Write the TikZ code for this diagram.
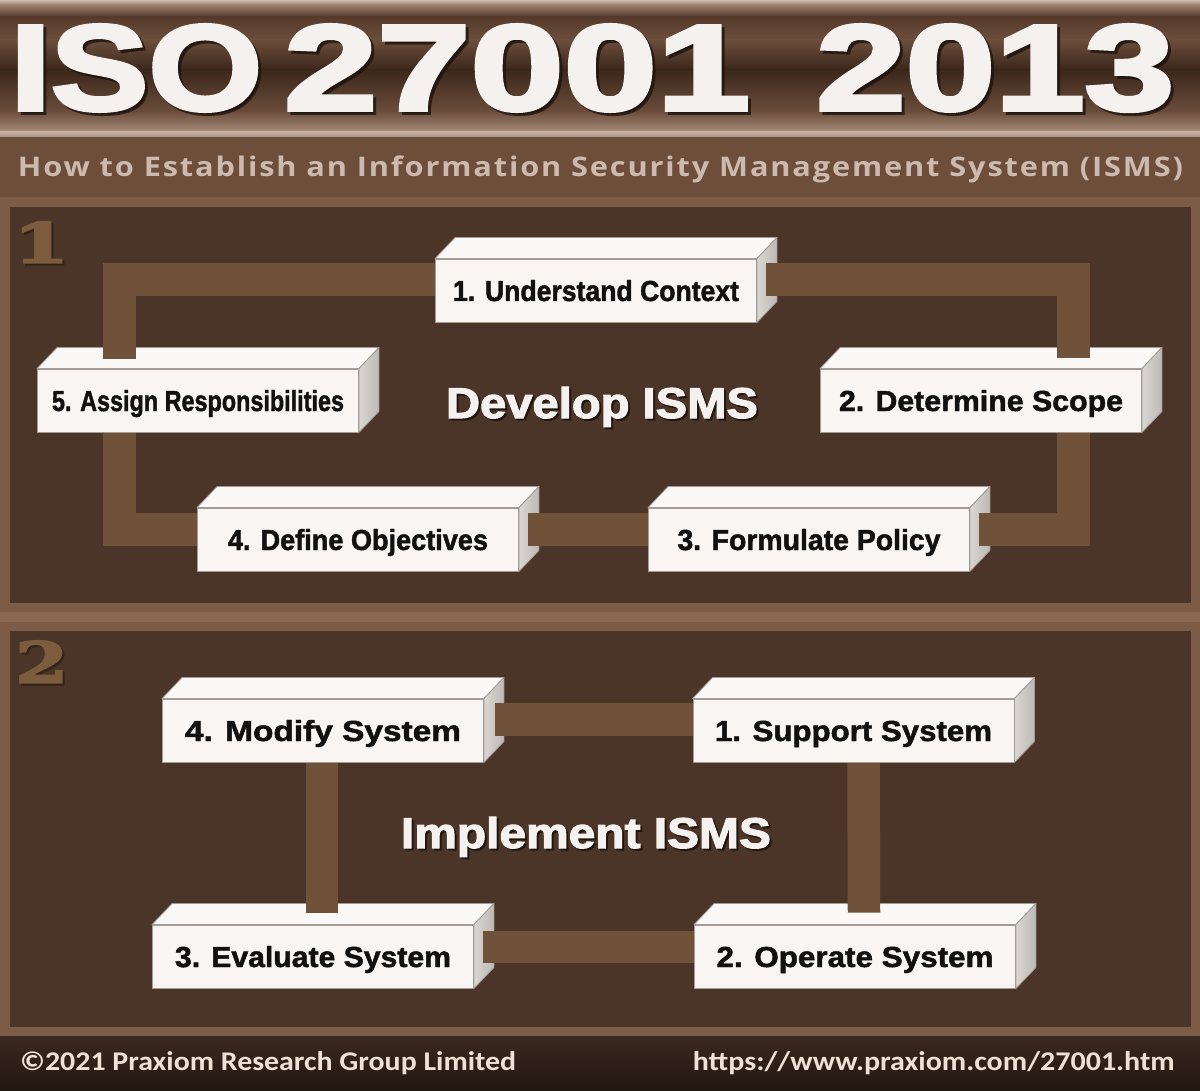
\documentclass[tikz,border=0pt]{standalone}
\usepackage{fontspec}
\setmainfont{Liberation Sans}
\newfontfamily\titlefont[FakeBold=3]{Liberation Sans Bold}
\newfontfamily\heavy[FakeBold=2.5]{Liberation Sans Bold}
\newfontfamily\boxfont[FakeBold=1.6]{Liberation Sans Bold}
\newfontfamily\subfont[LetterSpace=6]{Open Sans}
\newfontfamily\footfont{Carlito}
\newfontfamily\numfont[FakeBold=3]{DejaVu Serif Bold}
\usetikzlibrary{calc}
\pgfdeclarelayer{bg}
\pgfdeclarelayer{sides}
\pgfdeclarelayer{bars}
\pgfsetlayers{bg,sides,bars,main}

\definecolor{tA}{HTML}{CDB9AB}
\definecolor{tB}{HTML}{9E8372}
\definecolor{tC}{HTML}{553A2B}
\definecolor{tD}{HTML}{6C4E3C}
\definecolor{tE}{HTML}{3B271B}
\definecolor{tF}{HTML}{6A4D3B}
\definecolor{tG}{HTML}{A88D7B}
\definecolor{tH}{HTML}{C7B2A4}
\definecolor{subband}{HTML}{6C4E3B}
\definecolor{subtxt}{HTML}{CDBAAE}
\definecolor{border}{HTML}{7C5B47}
\definecolor{borderlt}{HTML}{8A6852}
\definecolor{panel}{HTML}{4B3428}
\definecolor{barc}{HTML}{6F5239}
\definecolor{numc}{HTML}{7B5D3D}
\definecolor{numsh}{HTML}{33231A}
\definecolor{footA}{HTML}{3A2920}
\definecolor{footB}{HTML}{21160F}
\definecolor{foottxt}{HTML}{EEE2D6}
\definecolor{frontc}{HTML}{F8F5F2}
\definecolor{topc}{HTML}{FBF9F7}
\definecolor{sideA}{HTML}{D9D6D3}
\definecolor{sideB}{HTML}{BDB9B5}
\definecolor{boxline}{HTML}{A39B94}
\definecolor{txt}{HTML}{111111}
\definecolor{whitetxt}{HTML}{F4F1EE}
\definecolor{shadowc}{HTML}{1C120C}

\newcommand{\bt}[2]{\resizebox{#1pt}{\height}{#2}}
\newcommand{\titletext}{\resizebox{252pt}{\height}{ISO}\hspace{22pt}\resizebox{466pt}{\height}{27001}\hspace{66pt}\resizebox{358pt}{\height}{2013}}
\newcommand{\cubefaces}[1]{%
  \begin{pgfonlayer}{sides}
    \draw[topface] (#1.north west) -- ++(20,-21) -- ($(#1.north east)+(20,-21)$) -- (#1.north east) -- cycle;
    \draw[sideface] (#1.north east) -- ++(20,-21) -- ($(#1.south east)+(20,-21)$) -- (#1.south east) -- cycle;
  \end{pgfonlayer}}

\tikzset{
  boxnode/.style={rectangle, draw=boxline, line width=0.9pt, fill=frontc,
    minimum width=321pt, minimum height=63pt, inner sep=0pt,
    text height=21pt, text depth=0pt, text=txt,
    font=\boxfont\fontsize{29}{31}\selectfont},
  topface/.style={draw=boxline, line width=0.8pt, fill=topc, line join=round},
  sideface/.style={draw=boxline, line width=0.8pt, left color=sideA, right color=sideB, line join=round},
  barline/.style={draw=barc, line width=32.5pt, line join=miter},
  bigtxt/.style={inner sep=0pt, anchor=base, font=\heavy\fontsize{43}{46}\selectfont},
  numtxt/.style={inner sep=0pt, anchor=south west, font=\numfont\fontsize{56}{58}\selectfont},
  titletxt/.style={inner sep=0pt, anchor=base west, font=\titlefont\fontsize{122}{125}\selectfont},
}

\begin{document}
\begin{tikzpicture}[x=1pt, y=-1pt]
\useasboundingbox (0,0) rectangle (1200,1091);

\begin{pgfonlayer}{bg}
  % title band
  \fill[top color=tA, bottom color=tB] (0,0) rectangle (1200,5);
  \fill[top color=tB, bottom color=tC] (0,4.5) rectangle (1200,17);
  \fill[top color=tC, bottom color=tD] (0,16.5) rectangle (1200,40);
  \fill[top color=tD, bottom color=tE] (0,39.5) rectangle (1200,70);
  \fill[top color=tE, bottom color=tF] (0,69.5) rectangle (1200,112);
  \fill[top color=tF, bottom color=tG] (0,111.5) rectangle (1200,132);
  \fill[top color=tH, bottom color=tG] (0,131.5) rectangle (1200,137.5);
  % subtitle band
  \fill[subband] (0,137) rectangle (1200,197.5);
  % panels
  \fill[border] (0,197) rectangle (1200,1036.5);
  \fill[borderlt] (0,612) rectangle (1200,622);
  \fill[panel] (10,207) rectangle (1191,603);
  \fill[panel] (10,631) rectangle (1191,1027);
  % footer
  \fill[top color=footA, bottom color=footB] (0,1036) rectangle (1200,1091);
\end{pgfonlayer}

% title
\node[titletxt, text=shadowc, opacity=0.75] (titlesh) at (13,113) {\titletext};
\node[titletxt, text=whitetxt] (title) at (10,110) {\titletext};

% subtitle
\node[inner sep=0pt, anchor=base, text=subtxt,
  font=\subfont\bfseries\fontsize{27}{30}\selectfont] (subtitle) at (600.5,177)
  {\resizebox{1165pt}{\height}{How to Establish an Information Security Management System (ISMS)}};

% panel numbers
\node[numtxt, text=numsh] (n1sh) at (15,265) {\resizebox{56pt}{41pt}{1}};
\node[numtxt, text=numc] (n1) at (13,263) {\resizebox{56pt}{41pt}{1}};
\node[numtxt, text=numsh] (n2sh) at (17,685) {\resizebox{53pt}{42pt}{2}};
\node[numtxt, text=numc] (n2) at (15,683) {\resizebox{53pt}{42pt}{2}};

% panel titles
\node[bigtxt, text=shadowc, opacity=0.8] (devsh) at (604,420) {\bt{312}{Develop ISMS}};
\node[bigtxt, text=whitetxt] (dev) at (602,418) {\bt{312}{Develop ISMS}};
\node[bigtxt, text=shadowc, opacity=0.8] (impsh) at (588,850) {\bt{370}{Implement ISMS}};
\node[bigtxt, text=whitetxt] (imp) at (586,848) {\bt{370}{Implement ISMS}};

% ---- panel 1 boxes
\node[boxnode] (b1) at (596,290.5) {\bt{286}{1. Understand Context}};
\node[boxnode] (b2) at (981,400.5) {\bt{284}{2. Determine Scope}};
\node[boxnode] (b3) at (809,539.5) {\bt{263}{3. Formulate Policy}};
\node[boxnode] (b4) at (358,539.5) {\bt{260}{4. Define Objectives}};
\node[boxnode] (b5) at (198,400.5) {\bt{292}{5. Assign Responsibilities}};

% ---- panel 2 boxes
\node[boxnode] (c1) at (853.5,730.5) {\bt{277}{1. Support System}};
\node[boxnode] (c2) at (855,956.5) {\bt{277}{2. Operate System}};
\node[boxnode] (c3) at (313,956.5) {\bt{276}{3. Evaluate System}};
\node[boxnode] (c4) at (323,730.5) {\bt{276}{4. Modify System}};

\cubefaces{b1}\cubefaces{b2}\cubefaces{b3}\cubefaces{b4}\cubefaces{b5}
\cubefaces{c1}\cubefaces{c2}\cubefaces{c3}\cubefaces{c4}

% ---- connectors
\begin{pgfonlayer}{bars}
  \draw[barline] ($(b1.west)+(8,-11)$) -| ($(b5.north west)+(82.5,-10)$);
  \draw[barline] ($(b1.east)+(9,-11)$) -| ($(b2.north east)+(-68.5,-11)$);
  \draw[barline] ($(b2.south east)+(-68.5,-5)$) |- ($(b3.east)+(9,-10)$);
  \draw[barline] ($(b3.west)+(6,-10)$) -- ($(b4.east)+(9,-10)$);
  \draw[barline] ($(b4.west)+(6,-10)$) -| ($(b5.south west)+(82.5,-5)$);

  \draw[barline] ($(c4.east)+(11,-11)$) -- ($(c1.west)+(6,-11)$);
  \draw[barline] ($(c1.south)+(10,-5)$) -- ($(c2.north)+(9,-12)$);
  \draw[barline] ($(c2.west)+(6,-9.5)$) -- ($(c3.east)+(9,-9.5)$);
  \draw[barline] ($(c3.north)+(9,-12)$) -- ($(c4.south)+(-1,-5)$);
\end{pgfonlayer}

% footer
\node[inner sep=0pt, anchor=base west, text=foottxt,
  font=\footfont\bfseries\fontsize{27}{30}\selectfont] (copy) at (20,1070)
  {\resizebox{496pt}{\height}{©2021 Praxiom Research Group Limited}};
\node[inner sep=0pt, anchor=base east, text=foottxt,
  font=\footfont\bfseries\fontsize{27}{30}\selectfont] (url) at (1175,1070)
  {\resizebox{482pt}{\height}{https://www.praxiom.com/27001.htm}};
\end{tikzpicture}
\end{document}
